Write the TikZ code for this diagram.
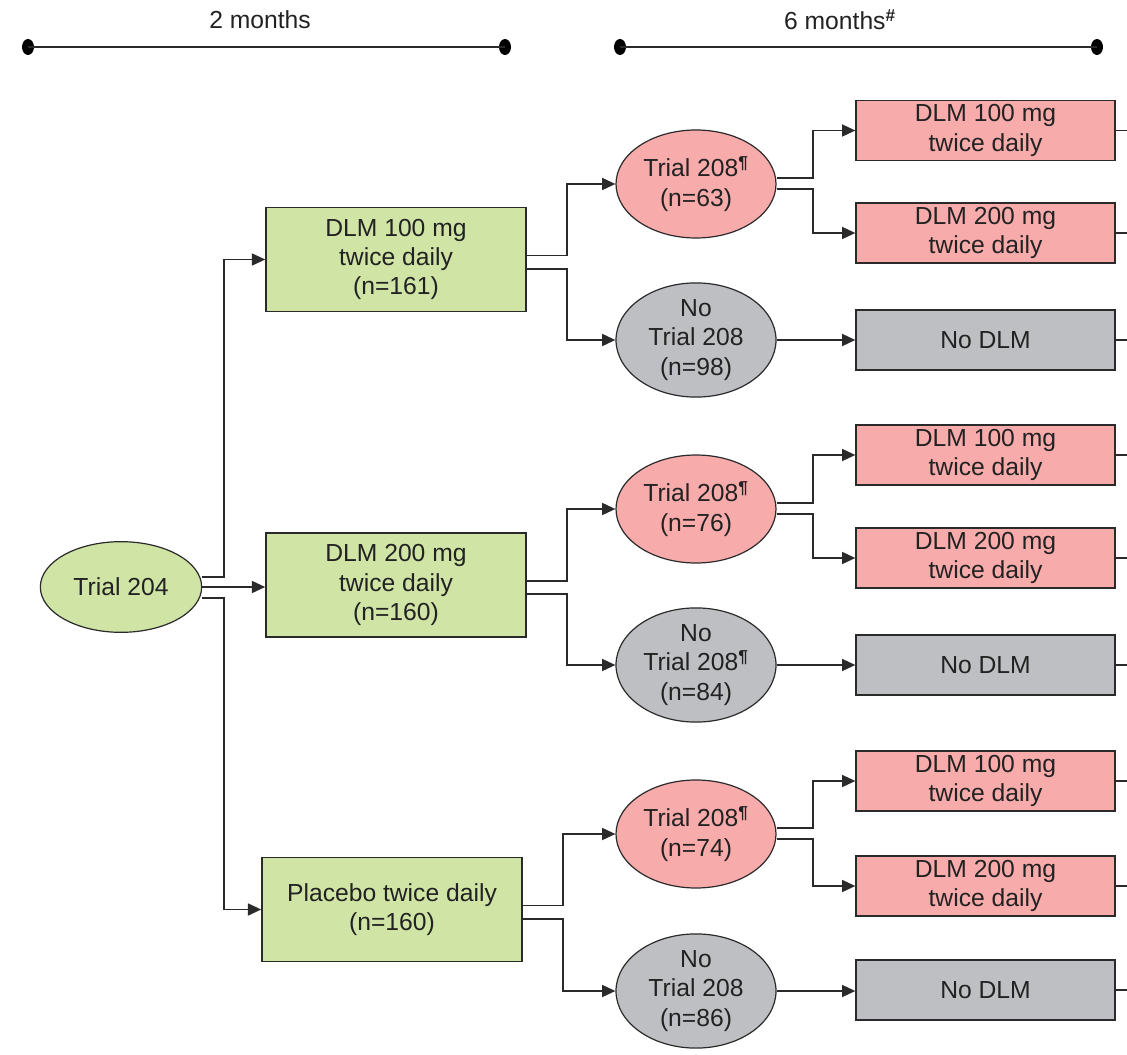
\documentclass[tikz,border=0pt]{standalone}
\usepackage{fontspec}
\setmainfont{Liberation Sans}
\usetikzlibrary{arrows.meta,shapes.geometric}
\definecolor{greenc}{HTML}{D0E4A6}
\definecolor{pinkc}{HTML}{F8ABAB}
\definecolor{grayc}{HTML}{BEBFC3}
\definecolor{linec}{HTML}{2A2A2A}
\definecolor{textc}{HTML}{222222}
\tikzset{
  every node/.style={font=\fontsize{18.5}{22}\selectfont, text=textc, align=center, inner sep=0pt},
  conn/.style={draw=linec, line width=1.35pt},
  arr/.style={conn, -{Triangle[length=10pt,width=9pt]}},
  gbox/.style={rectangle, draw=linec, line width=1.2pt, fill=greenc, minimum width=195pt, minimum height=78pt},
  rbox/.style={rectangle, draw=linec, line width=1.2pt, minimum width=194pt, minimum height=45pt},
  pbox/.style={rbox, fill=pinkc},
  nbox/.style={rbox, fill=grayc},
  ell/.style={ellipse, draw=linec, line width=0.9pt, minimum width=120pt, minimum height=81pt},
  pell/.style={ell, fill=pinkc},
  nell/.style={ell, fill=grayc},
  tl/.style={draw=linec, line width=1.8pt},
  dotn/.style={ellipse, fill=black, minimum width=9pt, minimum height=12pt, inner sep=0pt},
}
\begin{document}
\begin{tikzpicture}[x=0.75pt,y=-0.75pt]
\useasboundingbox (0,0) rectangle (1127,1055);
% timelines
\node (lab1) at (260,20) {2 months};
\node (lab2) at (840,20) {6 months\textsuperscript{\textbf{\#}}};
\node[dotn] (d1a) at (28,47) {};
\node[dotn] (d1b) at (505,47) {};
\node[dotn] (d2a) at (620,47) {};
\node[dotn] (d2b) at (1097,47) {};
\draw[tl] (d1a.center) -- (d1b.center);
\draw[tl] (d2a.center) -- (d2b.center);

% root
\node[ell, fill=greenc, minimum width=121pt, minimum height=68pt] (t) at (121,587) {Trial 204};

% green boxes
\node[gbox] (b1) at (396,259.5) {DLM 100 mg\\twice daily\\(n=161)};
\node[gbox] (b2) at (396,585) {DLM 200 mg\\twice daily\\(n=160)};
\node[gbox] (b3) at (392,909.5) {Placebo twice daily\\(n=160)};

% ellipses
\node[pell] (e1a) at (696,184) {Trial 208\textsuperscript{\textbf{¶}}\\(n=63)};
\node[nell] (e1b) at (696,340) {No\\Trial 208\\(n=98)};
\node[pell] (e2a) at (696,509) {Trial 208\textsuperscript{\textbf{¶}}\\(n=76)};
\node[nell] (e2b) at (696,665) {No\\Trial 208\textsuperscript{\textbf{¶}}\\(n=84)};
\node[pell] (e3a) at (696,834) {Trial 208\textsuperscript{\textbf{¶}}\\(n=74)};
\node[nell] (e3b) at (696,991) {No\\Trial 208\\(n=86)};

% right boxes
\node[pbox] (r1a) at (985.5,130.5) {DLM 100 mg\\twice daily};
\node[pbox] (r1b) at (985.5,233) {DLM 200 mg\\twice daily};
\node[nbox] (r1c) at (985.5,340) {No DLM};
\node[pbox] (r2a) at (985.5,455) {DLM 100 mg\\twice daily};
\node[pbox] (r2b) at (985.5,558) {DLM 200 mg\\twice daily};
\node[nbox] (r2c) at (985.5,665) {No DLM};
\node[pbox] (r3a) at (985.5,781) {DLM 100 mg\\twice daily};
\node[pbox] (r3b) at (985.5,886) {DLM 200 mg\\twice daily};
\node[nbox] (r3c) at (985.5,990) {No DLM};

% root connectors
\draw[arr] ([yshift=7.5pt]t.east) -- ++(16pt,0) |- (b1.west);
\draw[arr] (t.east) -- (t.east -| b2.west);
\draw[arr] ([yshift=-8pt]t.east) -- ++(16pt,0) |- (b3.west);

% box -> ellipses
\foreach \b/\u/\l in {b1/e1a/e1b, b2/e2a/e2b, b3/e3a/e3b}{
  \draw[arr] ([yshift=3pt]\b.east) -- ++(30pt,0) |- (\u.west);
  \draw[arr] ([yshift=-7pt]\b.east) -- ++(30pt,0) |- (\l.west);
}

% ellipse -> right boxes
\foreach \e/\u/\l in {e1a/r1a/r1b, e2a/r2a/r2b, e3a/r3a/r3b}{
  \draw[arr] ([yshift=4.5pt]\e.east) -- ++(27pt,0) |- (\u.west);
  \draw[arr] ([yshift=-4pt]\e.east) -- ++(27pt,0) |- (\l.west);
}
\draw[arr] (e1b.east) -- (e1b.east -| r1c.west);
\draw[arr] (e2b.east) -- (e2b.east -| r2c.west);
\draw[arr] (e3b.east) -- (e3b.east -| r3c.west);

% stubs to right edge
\foreach \r in {r1a,r1b,r1c,r2a,r2b,r2c,r3a,r3b,r3c}{
  \coordinate (\r-end) at (1127,0);
  \draw[conn] (\r.east) -- (\r.east -| \r-end);
}
\end{tikzpicture}
\end{document}
